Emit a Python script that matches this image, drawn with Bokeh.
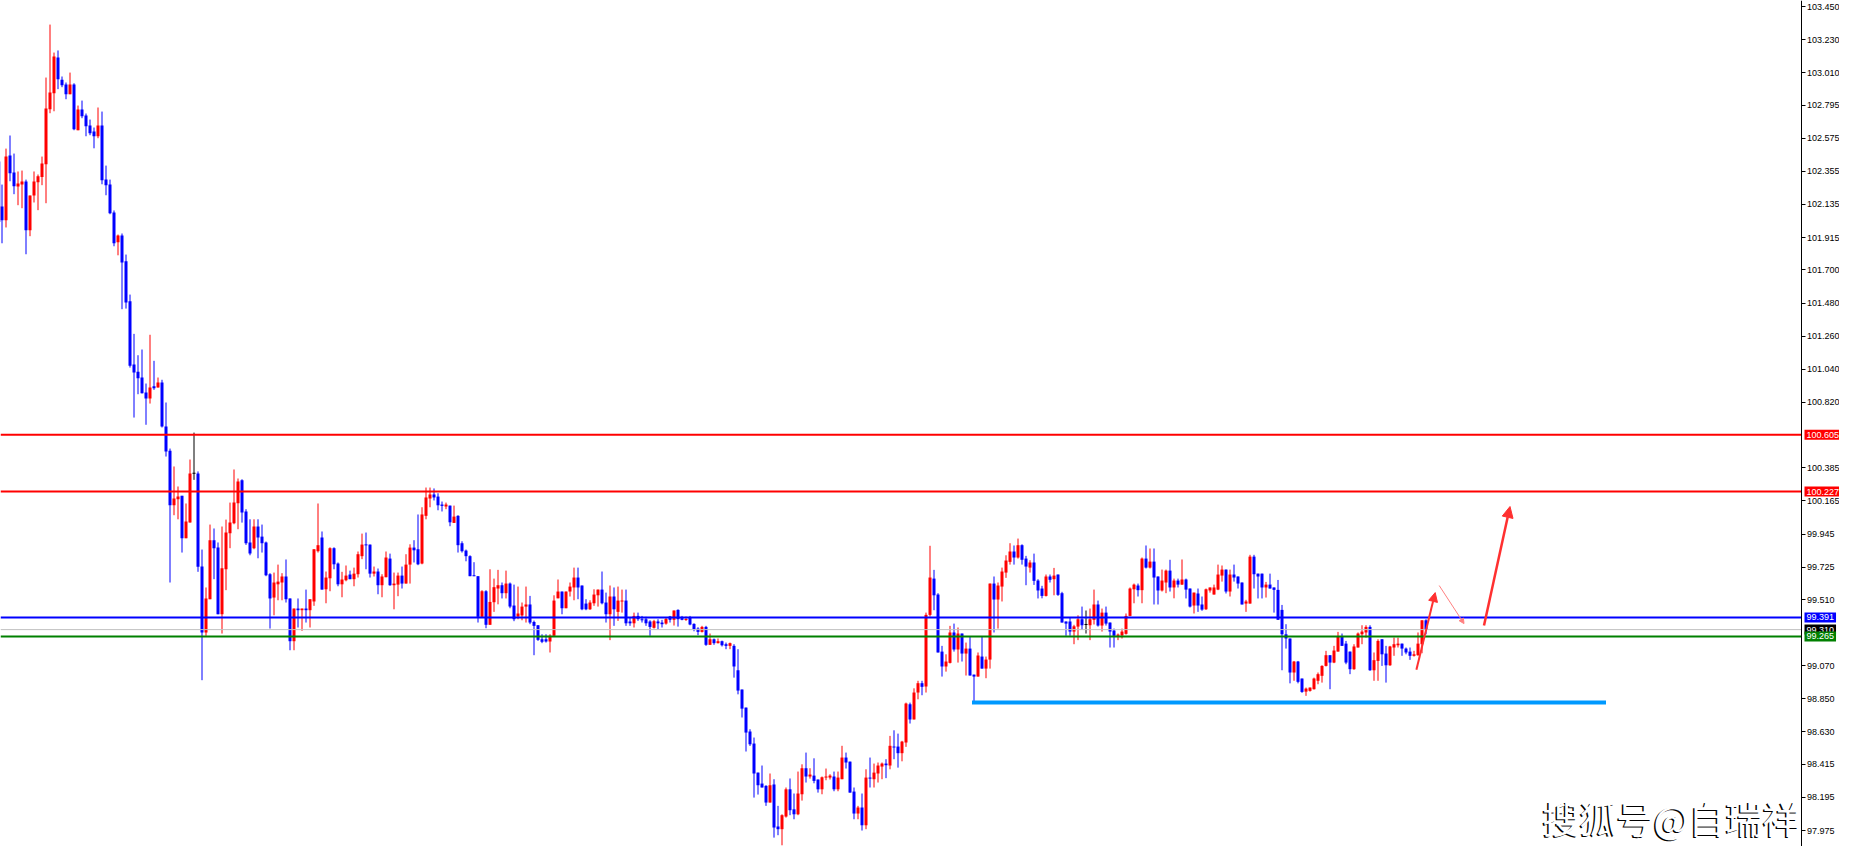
from bokeh.plotting import figure
from bokeh.models import (Label, FixedTicker, PrintfTickFormatter, Range1d,
                          Arrow, NormalHead, ColumnDataSource)
from bokeh.embed import file_html
from bokeh.resources import INLINE

# ---------------- data ----------------
opens = [
102.420, 102.030, 102.121, 102.030, 102.460, 102.347, 102.254, 102.267, 102.287, 101.964,
102.194, 102.283, 102.318, 102.402, 102.768, 102.874, 103.111, 102.963, 102.932, 102.867,
102.932, 102.628, 102.766, 102.726, 102.659, 102.619, 102.588, 102.659, 102.300, 102.267,
102.081, 101.884, 101.928, 101.758, 101.492, 101.071, 101.023, 100.985, 100.885, 100.845,
100.927, 100.918, 100.952, 100.659, 100.498, 100.136, 100.176, 100.199, 99.917, 100.021,
100.349, 100.347, 99.729, 99.291, 99.512, 99.904, 99.855, 99.412, 99.711, 99.950,
100.017, 100.150, 100.302, 100.095, 99.889, 99.851, 99.995, 99.928, 99.889, 99.678,
99.523, 99.611, 99.623, 99.663, 99.517, 99.233, 99.450, 99.439, 99.450, 99.439,
99.497, 99.831, 99.922, 99.578, 99.651, 99.851, 99.749, 99.611, 99.638, 99.676,
99.645, 99.678, 99.798, 99.875, 99.875, 99.682, 99.696, 99.605, 99.658, 99.782,
99.605, 99.609, 99.669, 99.616, 99.742, 99.855, 99.844, 99.749, 100.066, 100.181,
100.208, 100.194, 100.141, 100.128, 100.134, 100.019, 100.066, 99.884, 99.835, 99.798,
99.671, 99.665, 99.395, 99.565, 99.342, 99.492, 99.583, 99.605, 99.552, 99.616,
99.470, 99.397, 99.404, 99.463, 99.477, 99.361, 99.339, 99.246, 99.246, 99.231,
99.269, 99.518, 99.563, 99.452, 99.563, 99.590, 99.656, 99.603, 99.483, 99.445,
99.485, 99.538, 99.576, 99.490, 99.412, 99.530, 99.428, 99.497, 99.503, 99.364,
99.352, 99.401, 99.379, 99.379, 99.364, 99.322, 99.364, 99.357, 99.350, 99.397,
99.375, 99.441, 99.386, 99.375, 99.390, 99.348, 99.317, 99.295, 99.328, 99.209,
99.246, 99.220, 99.233, 99.213, 99.202, 99.202, 99.040, 98.912, 98.792, 98.633,
98.553, 98.360, 98.287, 98.272, 98.161, 98.281, 98.002, 97.984, 98.068, 98.249,
98.116, 98.083, 98.216, 98.389, 98.334, 98.340, 98.314, 98.249, 98.327, 98.327,
98.334, 98.249, 98.316, 98.460, 98.433, 98.234, 98.088, 98.128, 98.010, 98.327,
98.316, 98.354, 98.400, 98.420, 98.407, 98.533, 98.533, 98.489, 98.560, 98.814,
98.713, 98.892, 98.954, 98.932, 99.408, 99.649, 99.543, 99.164, 99.065, 99.089,
99.291, 99.178, 99.284, 99.151, 99.184, 99.011, 98.998, 99.131, 99.051, 99.111,
99.616, 99.510, 99.596, 99.689, 99.760, 99.829, 99.789, 99.871, 99.782, 99.722,
99.756, 99.636, 99.583, 99.534, 99.663, 99.645, 99.676, 99.552, 99.364, 99.364,
99.297, 99.330, 99.379, 99.344, 99.339, 99.375, 99.477, 99.337, 99.423, 99.357,
99.304, 99.269, 99.271, 99.282, 99.401, 99.578, 99.603, 99.572, 99.782, 99.722,
99.762, 99.663, 99.570, 99.623, 99.702, 99.590, 99.636, 99.609, 99.643, 99.583,
99.470, 99.550, 99.477, 99.445, 99.570, 99.543, 99.576, 99.669, 99.709, 99.563,
99.676, 99.663, 99.623, 99.483, 99.483, 99.795, 99.682, 99.682, 99.590, 99.609,
99.590, 99.574, 99.441, 99.279, 99.251, 99.025, 99.098, 98.985, 98.898, 98.903,
98.914, 98.970, 99.003, 99.069, 99.140, 99.091, 99.164, 99.262, 99.217, 99.164,
99.047, 99.191, 99.279, 99.291, 99.328, 99.040, 99.102, 99.246, 99.151, 99.073,
99.191, 99.206, 99.217, 99.184, 99.164, 99.136, 99.140, 99.213, 99.372,
]

highs = [
102.440, 102.360, 102.267, 102.506, 102.593, 102.473, 102.354, 102.360, 102.300, 102.194,
102.354, 102.334, 102.453, 102.978, 103.330, 103.144, 103.158, 102.985, 102.945, 103.011,
102.940, 102.792, 102.825, 102.739, 102.699, 102.646, 102.779, 102.752, 102.393, 102.300,
102.095, 101.935, 101.942, 101.802, 101.536, 101.275, 101.133, 101.171, 100.945, 101.269,
101.096, 100.985, 100.970, 100.819, 100.513, 100.394, 100.261, 100.199, 100.148, 100.440,
100.619, 100.361, 99.842, 99.590, 100.008, 99.982, 99.889, 99.995, 100.041, 100.154,
100.374, 100.314, 100.309, 100.110, 100.043, 100.043, 100.043, 100.008, 99.895, 99.685,
99.689, 99.742, 99.685, 99.776, 99.517, 99.450, 99.517, 99.450, 99.576, 99.512,
99.844, 100.148, 99.962, 99.696, 99.857, 99.857, 99.756, 99.694, 99.736, 99.702,
99.722, 99.829, 99.948, 99.955, 99.875, 99.729, 99.716, 99.678, 99.829, 99.815,
99.689, 99.689, 99.729, 99.811, 99.877, 99.904, 100.075, 100.123, 100.254, 100.254,
100.248, 100.216, 100.161, 100.154, 100.134, 100.134, 100.070, 99.897, 99.842, 99.804,
99.758, 99.665, 99.572, 99.572, 99.711, 99.649, 99.707, 99.623, 99.702, 99.623,
99.609, 99.596, 99.490, 99.596, 99.534, 99.370, 99.339, 99.279, 99.279, 99.279,
99.538, 99.643, 99.563, 99.563, 99.623, 99.722, 99.722, 99.603, 99.512, 99.505,
99.578, 99.576, 99.696, 99.556, 99.603, 99.590, 99.596, 99.576, 99.576, 99.390,
99.423, 99.423, 99.401, 99.395, 99.372, 99.375, 99.379, 99.375, 99.390, 99.401,
99.437, 99.445, 99.401, 99.397, 99.401, 99.352, 99.326, 99.335, 99.335, 99.284,
99.251, 99.251, 99.237, 99.224, 99.224, 99.213, 99.180, 98.912, 98.792, 98.648,
98.593, 98.360, 98.407, 98.276, 98.354, 98.316, 98.139, 98.083, 98.261, 98.321,
98.221, 98.367, 98.415, 98.493, 98.389, 98.455, 98.314, 98.334, 98.387, 98.349,
98.367, 98.367, 98.538, 98.493, 98.433, 98.261, 98.139, 98.221, 98.382, 98.460,
98.420, 98.427, 98.427, 98.449, 98.604, 98.641, 98.619, 98.571, 98.825, 98.825,
98.920, 98.970, 98.970, 99.423, 99.867, 99.707, 99.552, 99.202, 99.146, 99.335,
99.350, 99.324, 99.284, 99.224, 99.264, 99.011, 99.158, 99.264, 99.131, 99.616,
99.663, 99.623, 99.722, 99.804, 99.884, 99.869, 99.915, 99.877, 99.800, 99.771,
99.815, 99.645, 99.601, 99.676, 99.676, 99.720, 99.676, 99.561, 99.364, 99.390,
99.342, 99.405, 99.463, 99.437, 99.450, 99.576, 99.503, 99.450, 99.463, 99.357,
99.317, 99.284, 99.317, 99.417, 99.590, 99.616, 99.616, 99.789, 99.869, 99.849,
99.849, 99.663, 99.709, 99.709, 99.774, 99.649, 99.649, 99.776, 99.649, 99.583,
99.556, 99.583, 99.530, 99.583, 99.590, 99.609, 99.742, 99.736, 99.709, 99.709,
99.742, 99.663, 99.623, 99.508, 99.807, 99.807, 99.682, 99.682, 99.627, 99.682,
99.590, 99.640, 99.474, 99.346, 99.251, 99.102, 99.102, 98.985, 98.925, 98.925,
98.991, 99.025, 99.073, 99.169, 99.140, 99.202, 99.295, 99.284, 99.235, 99.164,
99.213, 99.291, 99.339, 99.339, 99.339, 99.158, 99.246, 99.246, 99.202, 99.202,
99.257, 99.257, 99.217, 99.191, 99.191, 99.169, 99.291, 99.372, 99.379,
]

lows = [
102.015, 102.030, 101.877, 101.982, 102.289, 102.203, 102.130, 102.110, 101.804, 101.924,
102.148, 102.097, 102.263, 102.143, 102.741, 102.754, 102.901, 102.914, 102.834, 102.867,
102.628, 102.628, 102.708, 102.588, 102.595, 102.508, 102.575, 102.269, 102.196, 102.070,
101.857, 101.797, 101.439, 101.443, 101.051, 100.719, 100.874, 100.879, 100.671, 100.812,
100.903, 100.918, 100.653, 100.460, 99.623, 100.070, 100.043, 99.822, 99.917, 100.021,
100.305, 99.694, 98.974, 99.269, 99.512, 99.645, 99.412, 99.284, 99.572, 99.851,
100.010, 99.977, 100.021, 99.873, 99.804, 99.844, 99.784, 99.822, 99.665, 99.317,
99.405, 99.505, 99.505, 99.490, 99.173, 99.173, 99.324, 99.302, 99.357, 99.324,
99.468, 99.822, 99.576, 99.485, 99.565, 99.711, 99.598, 99.525, 99.631, 99.645,
99.598, 99.656, 99.778, 99.711, 99.656, 99.663, 99.545, 99.525, 99.658, 99.601,
99.445, 99.532, 99.583, 99.616, 99.616, 99.756, 99.738, 99.744, 100.043, 100.123,
100.168, 100.103, 100.095, 100.110, 99.997, 100.019, 99.822, 99.822, 99.764, 99.665,
99.665, 99.357, 99.390, 99.319, 99.342, 99.428, 99.478, 99.517, 99.517, 99.452,
99.366, 99.379, 99.372, 99.357, 99.346, 99.140, 99.235, 99.220, 99.224, 99.158,
99.269, 99.518, 99.412, 99.452, 99.530, 99.505, 99.512, 99.439, 99.439, 99.441,
99.468, 99.463, 99.478, 99.357, 99.240, 99.335, 99.368, 99.423, 99.335, 99.335,
99.324, 99.368, 99.357, 99.335, 99.269, 99.317, 99.313, 99.324, 99.343, 99.357,
99.337, 99.330, 99.372, 99.368, 99.339, 99.299, 99.273, 99.291, 99.202, 99.209,
99.209, 99.218, 99.198, 99.180, 99.180, 98.991, 98.880, 98.726, 98.500, 98.537,
98.194, 98.214, 98.261, 98.139, 98.161, 97.928, 97.944, 97.877, 98.061, 98.077,
98.050, 98.077, 98.174, 98.294, 98.320, 98.289, 98.227, 98.216, 98.309, 98.314,
98.236, 98.236, 98.316, 98.387, 98.227, 98.050, 98.050, 97.975, 97.984, 98.261,
98.261, 98.294, 98.316, 98.323, 98.382, 98.449, 98.393, 98.435, 98.531, 98.686,
98.713, 98.847, 98.874, 98.892, 99.397, 99.439, 99.158, 98.998, 99.031, 99.085,
99.164, 99.091, 99.098, 99.005, 99.005, 98.825, 98.998, 99.051, 98.987, 99.051,
99.291, 99.317, 99.497, 99.654, 99.742, 99.742, 99.782, 99.742, 99.605, 99.689,
99.607, 99.517, 99.518, 99.530, 99.623, 99.538, 99.534, 99.357, 99.269, 99.269,
99.213, 99.240, 99.308, 99.284, 99.240, 99.344, 99.330, 99.297, 99.337, 99.191,
99.191, 99.240, 99.251, 99.277, 99.399, 99.485, 99.530, 99.485, 99.716, 99.716,
99.477, 99.477, 99.563, 99.552, 99.563, 99.518, 99.590, 99.607, 99.517, 99.457,
99.417, 99.428, 99.435, 99.441, 99.556, 99.543, 99.572, 99.629, 99.550, 99.530,
99.629, 99.583, 99.477, 99.428, 99.483, 99.583, 99.517, 99.517, 99.523, 99.583,
99.423, 99.375, 99.040, 99.184, 98.953, 98.970, 98.953, 98.890, 98.870, 98.898,
98.912, 98.947, 98.958, 99.065, 98.914, 99.087, 99.164, 99.202, 99.080, 99.014,
99.043, 99.191, 99.213, 99.257, 99.036, 98.970, 98.970, 99.069, 98.958, 99.069,
99.136, 99.191, 99.136, 99.146, 99.109, 99.131, 99.136, 99.153, 99.279,
]

closes = [
102.019, 102.121, 102.030, 102.453, 102.342, 102.256, 102.274, 102.287, 101.964, 102.194,
102.287, 102.322, 102.407, 102.772, 102.879, 103.118, 102.967, 102.927, 102.867, 102.932,
102.635, 102.766, 102.721, 102.655, 102.608, 102.588, 102.659, 102.296, 102.263, 102.077,
101.877, 101.928, 101.749, 101.483, 101.063, 101.018, 100.980, 100.881, 100.845, 100.918,
100.914, 100.952, 100.659, 100.493, 100.136, 100.181, 100.194, 99.917, 100.028, 100.347,
100.349, 99.727, 99.291, 99.517, 99.904, 99.851, 99.412, 99.718, 99.955, 100.021,
100.154, 100.294, 100.088, 99.884, 99.815, 99.995, 99.922, 99.884, 99.671, 99.517,
99.623, 99.629, 99.663, 99.512, 99.233, 99.450, 99.439, 99.450, 99.439, 99.512,
99.844, 99.871, 99.576, 99.656, 99.851, 99.744, 99.611, 99.643, 99.669, 99.645,
99.682, 99.811, 99.875, 99.871, 99.682, 99.696, 99.605, 99.663, 99.789, 99.605,
99.616, 99.669, 99.616, 99.742, 99.855, 99.837, 99.744, 100.075, 100.188, 100.208,
100.188, 100.136, 100.132, 100.141, 100.023, 100.061, 99.871, 99.831, 99.798, 99.665,
99.665, 99.395, 99.565, 99.342, 99.494, 99.592, 99.605, 99.552, 99.616, 99.463,
99.379, 99.417, 99.463, 99.477, 99.357, 99.335, 99.242, 99.229, 99.231, 99.269,
99.503, 99.563, 99.452, 99.563, 99.596, 99.656, 99.590, 99.445, 99.445, 99.490,
99.543, 99.576, 99.485, 99.412, 99.530, 99.445, 99.503, 99.503, 99.352, 99.352,
99.401, 99.379, 99.372, 99.352, 99.328, 99.366, 99.352, 99.346, 99.381, 99.375,
99.437, 99.379, 99.375, 99.379, 99.344, 99.313, 99.295, 99.328, 99.209, 99.246,
99.220, 99.233, 99.206, 99.202, 99.220, 99.065, 98.905, 98.785, 98.626, 98.548,
98.354, 98.276, 98.261, 98.161, 98.276, 97.995, 97.984, 98.077, 98.249, 98.110,
98.083, 98.221, 98.389, 98.334, 98.347, 98.305, 98.249, 98.329, 98.334, 98.340,
98.249, 98.327, 98.460, 98.427, 98.227, 98.088, 98.128, 98.010, 98.327, 98.320,
98.360, 98.407, 98.420, 98.409, 98.538, 98.527, 98.489, 98.566, 98.819, 98.713,
98.892, 98.954, 98.930, 99.408, 99.656, 99.538, 99.158, 99.065, 99.098, 99.291,
99.178, 99.284, 99.151, 99.184, 99.005, 98.998, 99.138, 99.051, 99.111, 99.616,
99.510, 99.603, 99.696, 99.769, 99.829, 99.789, 99.871, 99.774, 99.729, 99.756,
99.634, 99.570, 99.534, 99.663, 99.641, 99.669, 99.541, 99.357, 99.350, 99.297,
99.332, 99.379, 99.339, 99.344, 99.379, 99.477, 99.337, 99.423, 99.350, 99.297,
99.269, 99.277, 99.297, 99.401, 99.583, 99.609, 99.572, 99.782, 99.722, 99.762,
99.656, 99.570, 99.636, 99.702, 99.590, 99.636, 99.609, 99.643, 99.576, 99.463,
99.556, 99.470, 99.443, 99.578, 99.590, 99.590, 99.676, 99.709, 99.563, 99.676,
99.656, 99.616, 99.477, 99.497, 99.795, 99.678, 99.663, 99.590, 99.609, 99.583,
99.574, 99.375, 99.279, 99.251, 99.025, 99.098, 98.963, 98.896, 98.918, 98.925,
98.985, 99.014, 99.069, 99.140, 99.091, 99.171, 99.262, 99.202, 99.091, 99.047,
99.198, 99.284, 99.297, 99.328, 99.040, 99.107, 99.235, 99.146, 99.073, 99.198,
99.213, 99.217, 99.184, 99.158, 99.136, 99.146, 99.217, 99.372, 99.310,
]

axis_ticks = [103.450, 103.230, 103.010, 102.795, 102.575, 102.355, 102.135, 101.915,
              101.700, 101.480, 101.260, 101.040, 100.820, 100.385, 100.165, 99.945,
              99.725, 99.510, 99.070, 98.850, 98.630, 98.415, 98.195, 97.975]

level_prices = [100.605, 100.227, 99.391, 99.310, 99.265]
level_texts = ["100.605", "100.227", "99.391", "99.310", "99.265"]
support_price = 98.825
watermark = "搜狐号@自瑞祥"

# ---------------- styling / layout constants ----------------
UP, DOWN, FLAT = "#ff0000", "#0000ff", "#000000"
level_box_colors = ["#ff0000", "#ff0000", "#0000ff", "#000000", "#008000"]
level_line_colors = ["#ff0000", "#ff0000", "#0000ff", "#c0c0c0", "#008000"]
level_line_widths = [2, 2, 2, 1, 2]

FW, FH = 1839, 846
PX = 4.0                      # pixels per candle
x0 = 1.625                    # left edge of the visible range (in candle units)
x_axis_pos = x0 + 1800.5 / PX  # where the price axis line sits

n = len(opens)
xs = list(range(n))
cols = [UP if c > o else (DOWN if c < o else FLAT) for o, c in zip(opens, closes)]
min_h = 0.0066
tops, bots = [], []
for o, c in zip(opens, closes):
    t, b = max(o, c), min(o, c)
    if t - b < min_h:
        m = (t + b) / 2
        t, b = m + min_h / 2, m - min_h / 2
    tops.append(t)
    bots.append(b)

src = ColumnDataSource(dict(x=xs, high=highs, low=lows, top=tops, bottom=bots, color=cols))

p = figure(frame_width=FW, frame_height=FH,
           x_range=Range1d(x0, x0 + FW / PX), y_range=Range1d(97.869, 103.490),
           y_axis_location="right", x_axis_location=None,
           output_backend="svg", toolbar_location=None,
           min_border_left=0, min_border_right=0, min_border_top=0, min_border_bottom=0)
p.outline_line_color = None
p.grid.visible = False
p.background_fill_color = "white"
p.border_fill_color = "white"

# candles
p.segment(x0="x", y0="low", x1="x", y1="high", line_color="color", line_width=1, source=src)
p.vbar(x="x", top="top", bottom="bottom", width=0.75, fill_color="color",
       line_color=None, source=src)

# horizontal levels (up to the price axis)
p.segment(x0=[x0] * len(level_prices), y0=level_prices,
          x1=[x_axis_pos] * len(level_prices), y1=level_prices,
          line_color=level_line_colors, line_width=level_line_widths, line_cap="butt")

# support segment
p.segment(x0=[244.5], y0=[support_price], x1=[403.0], y1=[support_price],
          line_color="#0099ff", line_width=4, line_cap="butt")

# arrows
p.add_layout(Arrow(end=NormalHead(size=9, fill_color="#ff3030", line_color="#ff3030"),
                   x_start=355.6, y_start=99.043, x_end=360.3, y_end=99.556,
                   line_color="#ff3030", line_width=2))
p.add_layout(Arrow(end=NormalHead(size=5, fill_color="#ff8080", line_color="#ff8080"),
                   x_start=361.3, y_start=99.603, x_end=367.5, y_end=99.350,
                   line_color="#ff8080", line_width=1))
p.add_layout(Arrow(end=NormalHead(size=11, fill_color="#ff3030", line_color="#ff3030"),
                   x_start=372.5, y_start=99.337, x_end=379.0, y_end=100.128,
                   line_color="#ff3030", line_width=2.5))

# price axis, drawn at a fixed position inside the frame
ax = p.yaxis[0]
ax.fixed_location = x_axis_pos
ax.ticker = FixedTicker(ticks=axis_ticks)
ax.formatter = PrintfTickFormatter(format="%.3f")
ax.axis_line_color = "black"
ax.axis_line_width = 1
ax.major_tick_line_color = "black"
ax.major_tick_out = 4
ax.major_tick_in = 0
ax.minor_tick_line_color = None
ax.major_label_text_font = "Liberation Sans"
ax.major_label_text_font_size = "9px"
ax.major_label_text_color = "black"
ax.major_label_standoff = 2

# price boxes on the axis
for lp, txt, bc in zip(level_prices, level_texts, level_box_colors):
    p.add_layout(Label(x=1804, y=lp, x_units="screen", y_units="data", text=txt,
                       text_color="white", text_font="Liberation Sans",
                       text_font_size="9px", text_baseline="middle", text_align="left",
                       background_fill_color=bc, padding=2))

# watermark (white face with dark shadow)
p.add_layout(Label(x=1540.5, y=0.5, x_units="screen", y_units="screen", text=watermark,
                   text_color="black", text_font="Noto Sans CJK SC",
                   text_font_size="37px", text_baseline="bottom"))
p.add_layout(Label(x=1542, y=2, x_units="screen", y_units="screen", text=watermark,
                   text_color="white", text_font="Noto Sans CJK SC",
                   text_font_size="37px", text_baseline="bottom"))

open("out.html", "w").write(file_html(p, INLINE))
